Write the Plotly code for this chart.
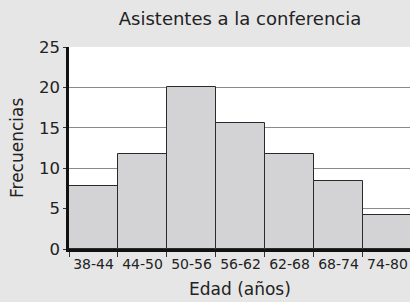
import plotly.graph_objects as go

categories = ["38-44", "44-50", "50-56", "56-62", "62-68", "68-74", "74-80"]
frecuencias = [7.8, 11.8, 20.0, 15.6, 11.7, 8.45, 4.25]
y_ticks = [0, 5, 10, 15, 20, 25]

FONT = "'DejaVu Sans', sans-serif"

fig = go.Figure(go.Bar(
    x=categories, y=frecuencias,
    marker=dict(color="#d3d3d5", line=dict(color="#2a2a2a", width=1)),
    width=1,
))

fig.update_layout(
    width=410, height=302,
    margin=dict(l=69, r=0, t=47, b=53),
    paper_bgcolor="#e6e6e6", plot_bgcolor="white",
    bargap=0, showlegend=False,
    title=dict(text="Asistentes a la conferencia", x=240 / 410, xanchor="center",
               y=1 - 19 / 302, yanchor="middle",
               font=dict(family=FONT, size=18, color="#222")),
    font=dict(family=FONT, color="#222"),
    annotations=[
        dict(text="Frecuencias", xref="paper", yref="paper",
             x=-52 / 341, y=0.5, xanchor="center", yanchor="middle",
             textangle=-90, showarrow=False,
             font=dict(family=FONT, size=17, color="#222")),
        dict(text="Edad (años)", xref="paper", yref="paper",
             x=(240 - 69) / 341, y=-(289 - 249) / 202, xanchor="center",
             yanchor="middle", showarrow=False,
             font=dict(family=FONT, size=17, color="#222")),
    ],
)
fig.update_xaxes(
    type="category", range=[-0.5, 6.46], tickson="boundaries",
    ticks="outside", ticklen=5, tickcolor="#333", tickwidth=1,
    showline=True, linecolor="#111", linewidth=2.5, tickangle=0,
    showgrid=False, tickfont=dict(size=14, family=FONT), automargin=False,
)
fig.update_yaxes(
    range=[0, 25], tickvals=y_ticks,
    ticks="outside", ticklen=3, tickcolor="#333",
    showline=True, linecolor="#111", linewidth=2.5,
    showgrid=True, gridcolor="#8a8a8a", gridwidth=1, zeroline=False,
    tickfont=dict(size=16.5, family=FONT), automargin=False,
)

fig.write_html("out.html", config={"displayModeBar": False},
               post_script="document.body.style.margin='0';")
